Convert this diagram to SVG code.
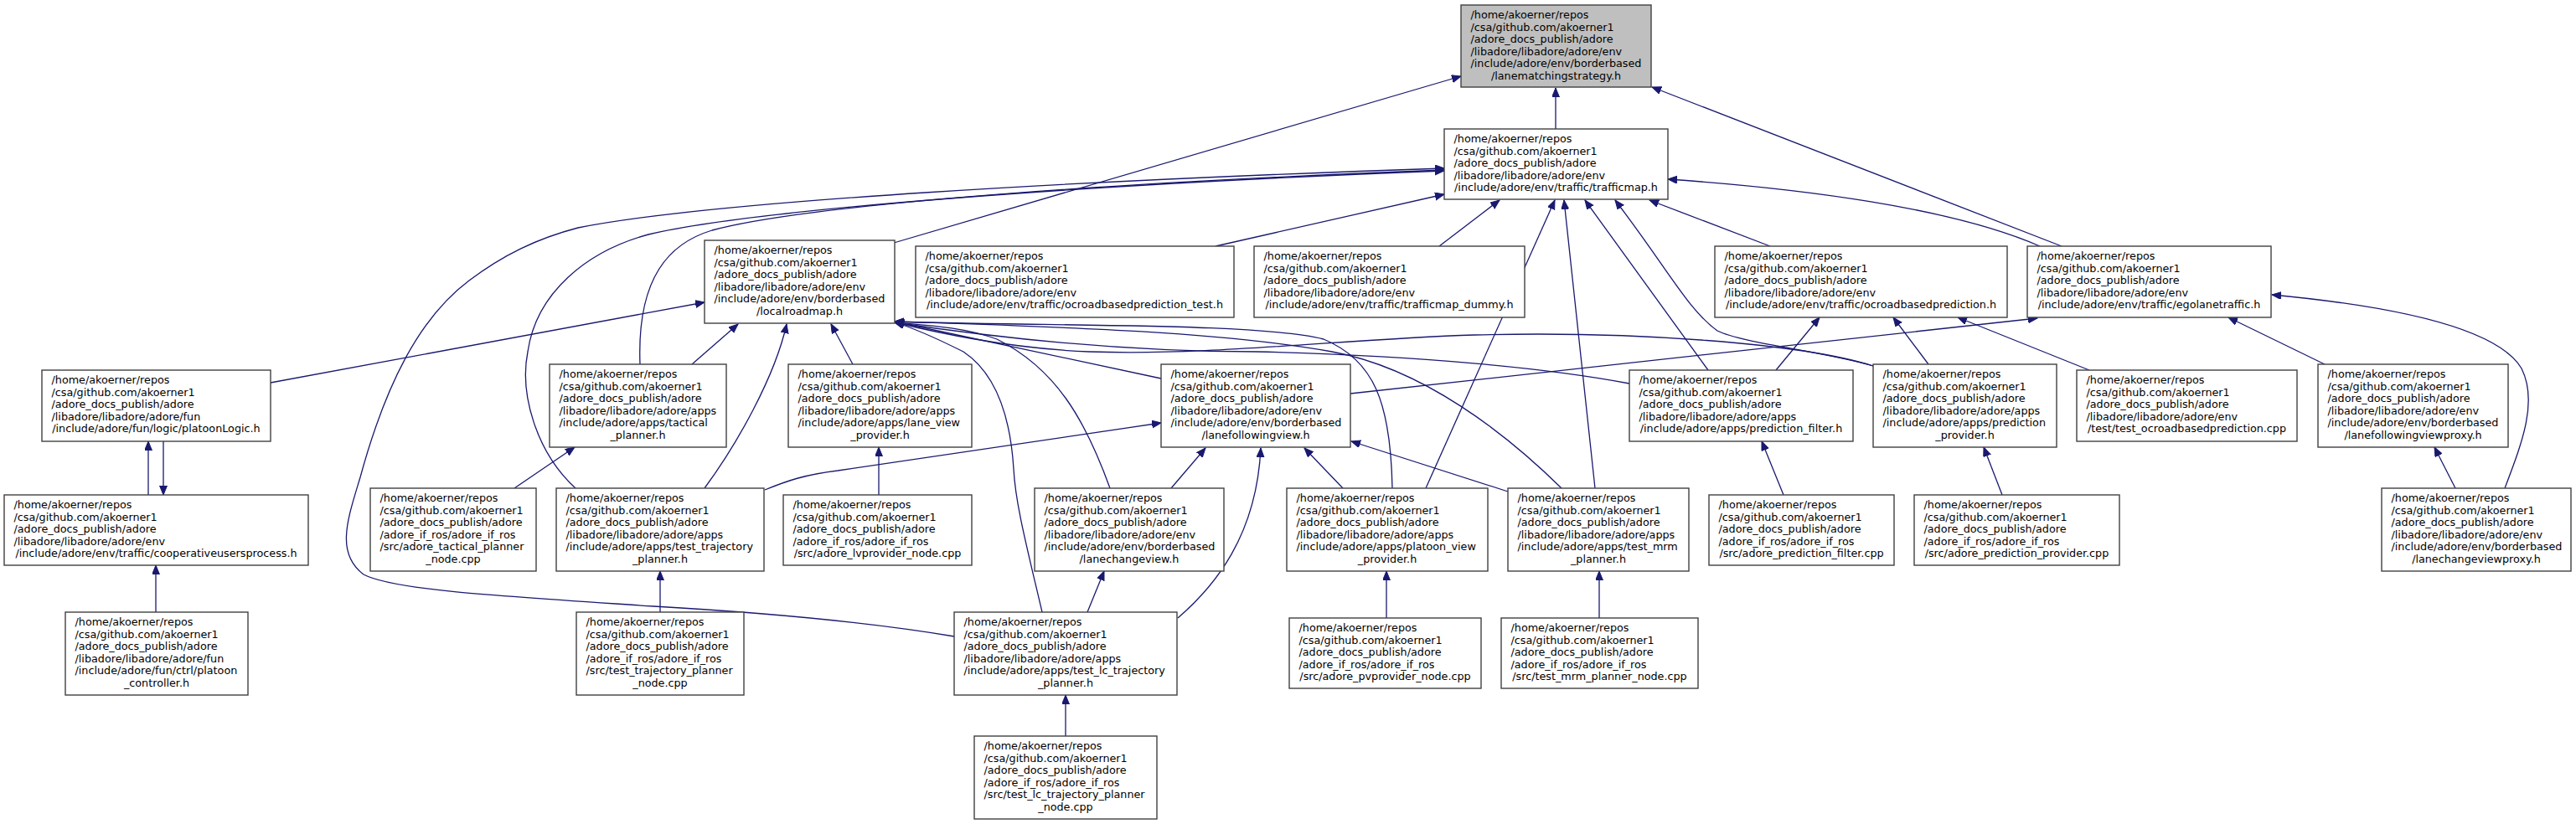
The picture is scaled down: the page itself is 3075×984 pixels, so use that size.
<svg xmlns="http://www.w3.org/2000/svg" width="3075" height="984" viewBox="0 0 3075 984">
<style>
.bg{fill:#ffffff}
.box{fill:#ffffff;stroke:#404040;stroke-width:1.4}
.cur{fill:#bfbfbf;stroke:#404040;stroke-width:1.4}
text{font-family:"DejaVu Sans","Liberation Sans",sans-serif;font-size:12.75px;fill:#000000}
.c{text-anchor:middle}
.e{fill:none;stroke:#191970;stroke-width:1.3;marker-end:url(#ah)}
</style>
<defs>
<marker id="ah" markerUnits="userSpaceOnUse" markerWidth="12" markerHeight="10" refX="11" refY="4.5" orient="auto">
<path d="M0,0 L11,4.5 L0,9 z" fill="#191970" stroke="#191970" stroke-width="1"/>
</marker>
</defs>
<rect class="bg" x="0" y="0" width="3075" height="984"/>

<g id="edges">
<path class="e" d="M1857,154 L1857,105"/>
<path class="e" d="M1067,290 L1744,91"/>
<path class="e" d="M2461,294 L1972,104"/>
<path class="e" d="M1451,294 L1724,232"/>
<path class="e" d="M1718,294 L1790,239"/>
<path class="e" d="M2113,294 L1969,239"/>
<path class="e" d="M2435,294 C2330,248 2150,225 1991,214"/>
<path class="e" d="M764,435 C760,330 800,290 850,275 C980,240 1400,215 1724,203"/>
<path class="e" d="M687,583 C640,540 620,470 630,420 C640,350 700,300 774,280 C900,250 1300,220 1724,204"/>
<path class="e" d="M1139,760 C1050,745 920,732 780,724 C600,712 470,705 434,686 C400,660 415,620 430,570 C460,460 500,380 560,335 C600,305 640,285 690,272 C850,240 1300,215 1724,201"/>
<path class="e" d="M1702,583 L1856,239"/>
<path class="e" d="M1904,583 L1867,239"/>
<path class="e" d="M2039,442 L1892,239"/>
<path class="e" d="M2236,437 C2180,420 2080,410 2050,395 C2015,370 1990,320 1928,239"/>
<path class="e" d="M323,457 L841,361"/>
<path class="e" d="M826,435 L881,387"/>
<path class="e" d="M841,583 C880,530 925,450 939,387"/>
<path class="e" d="M1018,435 L992,387"/>
<path class="e" d="M1386,452 L1068,384"/>
<path class="e" d="M1325,583 C1295,500 1260,440 1190,405 C1150,390 1100,388 1068,385"/>
<path class="e" d="M1662,583 C1660,480 1640,430 1580,405 C1500,385 1250,390 1068,384"/>
<path class="e" d="M1864,583 C1800,520 1700,440 1590,420 C1450,395 1250,390 1068,384"/>
<path class="e" d="M1945,458 C1850,440 1700,425 1500,420 C1350,420 1200,405 1068,385"/>
<path class="e" d="M2236,437 C2150,410 1950,395 1760,400 C1600,405 1450,425 1300,420 C1200,416 1110,395 1068,385"/>
<path class="e" d="M1244,731 C1225,650 1212,600 1210,560 C1205,480 1180,440 1150,420 C1110,400 1085,390 1068,385"/>
<path class="e" d="M1398,583 L1439,535"/>
<path class="e" d="M1406,738 C1450,700 1500,640 1505,535"/>
<path class="e" d="M1603,583 L1557,535"/>
<path class="e" d="M1800,587 L1613,527"/>
<path class="e" d="M913,585 C940,574 960,567 1000,562 L1386,505"/>
<path class="e" d="M1612,470 L2432,380"/>
<path class="e" d="M614,583 L686,534"/>
<path class="e" d="M788,731 L788,682"/>
<path class="e" d="M1049,591 L1049,534"/>
<path class="e" d="M1298,731 L1318,682"/>
<path class="e" d="M1272,879 L1272,830"/>
<path class="e" d="M1655,738 L1655,682"/>
<path class="e" d="M1909,738 L1909,682"/>
<path class="e" d="M2129,591 L2103,527"/>
<path class="e" d="M2390,591 L2368,534"/>
<path class="e" d="M2120,442 L2172,379"/>
<path class="e" d="M2302,435 L2260,379"/>
<path class="e" d="M2494,442 L2337,379"/>
<path class="e" d="M2775,435 L2660,379"/>
<path class="e" d="M2990,583 C3010,530 3030,480 3010,440 C2980,390 2850,365 2712,352"/>
<path class="e" d="M2931,583 L2906,534"/>
<path class="e" d="M177,591 L177,527"/>
<path class="e" d="M195,527 L195,591"/>
<path class="e" d="M186,731 L186,675"/>
</g>

<g id="node_lanematchingstrategy">
<rect class="cur" x="1744" y="6" width="227" height="98"/>
<text x="1755.5" y="22">/home/akoerner/repos</text>
<text x="1755.5" y="36.5">/csa/github.com/akoerner1</text>
<text x="1755.5" y="51">/adore_docs_publish/adore</text>
<text x="1755.5" y="65.5">/libadore/libadore/adore/env</text>
<text x="1755.5" y="80">/include/adore/env/borderbased</text>
<text class="c" x="1857.5" y="94.5">/lanematchingstrategy.h</text>
</g>

<g id="node_trafficmap">
<rect class="box" x="1724" y="154" width="267" height="84"/>
<text x="1735.5" y="170">/home/akoerner/repos</text>
<text x="1735.5" y="184.5">/csa/github.com/akoerner1</text>
<text x="1735.5" y="199">/adore_docs_publish/adore</text>
<text x="1735.5" y="213.5">/libadore/libadore/adore/env</text>
<text class="c" x="1857.5" y="228">/include/adore/env/traffic/trafficmap.h</text>
</g>

<g id="node_localroadmap">
<rect class="box" x="841" y="287" width="227" height="99"/>
<text x="852.5" y="303">/home/akoerner/repos</text>
<text x="852.5" y="317.5">/csa/github.com/akoerner1</text>
<text x="852.5" y="332">/adore_docs_publish/adore</text>
<text x="852.5" y="346.5">/libadore/libadore/adore/env</text>
<text x="852.5" y="361">/include/adore/env/borderbased</text>
<text class="c" x="954.5" y="375.5">/localroadmap.h</text>
</g>

<g id="node_ocroadbasedprediction_test">
<rect class="box" x="1093" y="294" width="380" height="85"/>
<text x="1104.5" y="310">/home/akoerner/repos</text>
<text x="1104.5" y="324.5">/csa/github.com/akoerner1</text>
<text x="1104.5" y="339">/adore_docs_publish/adore</text>
<text x="1104.5" y="353.5">/libadore/libadore/adore/env</text>
<text class="c" x="1283" y="368">/include/adore/env/traffic/ocroadbasedprediction_test.h</text>
</g>

<g id="node_trafficmap_dummy">
<rect class="box" x="1497" y="294" width="323" height="85"/>
<text x="1508.5" y="310">/home/akoerner/repos</text>
<text x="1508.5" y="324.5">/csa/github.com/akoerner1</text>
<text x="1508.5" y="339">/adore_docs_publish/adore</text>
<text x="1508.5" y="353.5">/libadore/libadore/adore/env</text>
<text class="c" x="1658.5" y="368">/include/adore/env/traffic/trafficmap_dummy.h</text>
</g>

<g id="node_ocroadbasedprediction">
<rect class="box" x="2047" y="294" width="349" height="85"/>
<text x="2058.5" y="310">/home/akoerner/repos</text>
<text x="2058.5" y="324.5">/csa/github.com/akoerner1</text>
<text x="2058.5" y="339">/adore_docs_publish/adore</text>
<text x="2058.5" y="353.5">/libadore/libadore/adore/env</text>
<text class="c" x="2221.5" y="368">/include/adore/env/traffic/ocroadbasedprediction.h</text>
</g>

<g id="node_egolanetraffic">
<rect class="box" x="2420" y="294" width="291" height="85"/>
<text x="2431.5" y="310">/home/akoerner/repos</text>
<text x="2431.5" y="324.5">/csa/github.com/akoerner1</text>
<text x="2431.5" y="339">/adore_docs_publish/adore</text>
<text x="2431.5" y="353.5">/libadore/libadore/adore/env</text>
<text class="c" x="2565.5" y="368">/include/adore/env/traffic/egolanetraffic.h</text>
</g>

<g id="node_platoonLogic">
<rect class="box" x="50" y="442" width="273" height="85"/>
<text x="61.5" y="458">/home/akoerner/repos</text>
<text x="61.5" y="472.5">/csa/github.com/akoerner1</text>
<text x="61.5" y="487">/adore_docs_publish/adore</text>
<text x="61.5" y="501.5">/libadore/libadore/adore/fun</text>
<text class="c" x="186.5" y="516">/include/adore/fun/logic/platoonLogic.h</text>
</g>

<g id="node_tactical_planner">
<rect class="box" x="656" y="435" width="211" height="99"/>
<text x="667.5" y="451">/home/akoerner/repos</text>
<text x="667.5" y="465.5">/csa/github.com/akoerner1</text>
<text x="667.5" y="480">/adore_docs_publish/adore</text>
<text x="667.5" y="494.5">/libadore/libadore/adore/apps</text>
<text x="667.5" y="509">/include/adore/apps/tactical</text>
<text class="c" x="761.5" y="523.5">_planner.h</text>
</g>

<g id="node_lane_view_provider">
<rect class="box" x="941" y="435" width="219" height="99"/>
<text x="952.5" y="451">/home/akoerner/repos</text>
<text x="952.5" y="465.5">/csa/github.com/akoerner1</text>
<text x="952.5" y="480">/adore_docs_publish/adore</text>
<text x="952.5" y="494.5">/libadore/libadore/adore/apps</text>
<text x="952.5" y="509">/include/adore/apps/lane_view</text>
<text class="c" x="1050.5" y="523.5">_provider.h</text>
</g>

<g id="node_lanefollowingview">
<rect class="box" x="1386" y="435" width="226" height="99"/>
<text x="1397.5" y="451">/home/akoerner/repos</text>
<text x="1397.5" y="465.5">/csa/github.com/akoerner1</text>
<text x="1397.5" y="480">/adore_docs_publish/adore</text>
<text x="1397.5" y="494.5">/libadore/libadore/adore/env</text>
<text x="1397.5" y="509">/include/adore/env/borderbased</text>
<text class="c" x="1499" y="523.5">/lanefollowingview.h</text>
</g>

<g id="node_prediction_filter_h">
<rect class="box" x="1945" y="442" width="267" height="85"/>
<text x="1956.5" y="458">/home/akoerner/repos</text>
<text x="1956.5" y="472.5">/csa/github.com/akoerner1</text>
<text x="1956.5" y="487">/adore_docs_publish/adore</text>
<text x="1956.5" y="501.5">/libadore/libadore/adore/apps</text>
<text class="c" x="2078.5" y="516">/include/adore/apps/prediction_filter.h</text>
</g>

<g id="node_prediction_provider_h">
<rect class="box" x="2236" y="435" width="219" height="99"/>
<text x="2247.5" y="451">/home/akoerner/repos</text>
<text x="2247.5" y="465.5">/csa/github.com/akoerner1</text>
<text x="2247.5" y="480">/adore_docs_publish/adore</text>
<text x="2247.5" y="494.5">/libadore/libadore/adore/apps</text>
<text x="2247.5" y="509">/include/adore/apps/prediction</text>
<text class="c" x="2345.5" y="523.5">_provider.h</text>
</g>

<g id="node_test_ocroadbasedprediction">
<rect class="box" x="2479" y="442" width="263" height="85"/>
<text x="2490.5" y="458">/home/akoerner/repos</text>
<text x="2490.5" y="472.5">/csa/github.com/akoerner1</text>
<text x="2490.5" y="487">/adore_docs_publish/adore</text>
<text x="2490.5" y="501.5">/libadore/libadore/adore/env</text>
<text class="c" x="2610.5" y="516">/test/test_ocroadbasedprediction.cpp</text>
</g>

<g id="node_lanefollowingviewproxy">
<rect class="box" x="2767" y="435" width="227" height="99"/>
<text x="2778.5" y="451">/home/akoerner/repos</text>
<text x="2778.5" y="465.5">/csa/github.com/akoerner1</text>
<text x="2778.5" y="480">/adore_docs_publish/adore</text>
<text x="2778.5" y="494.5">/libadore/libadore/adore/env</text>
<text x="2778.5" y="509">/include/adore/env/borderbased</text>
<text class="c" x="2880.5" y="523.5">/lanefollowingviewproxy.h</text>
</g>

<g id="node_cooperativeusersprocess">
<rect class="box" x="5" y="591" width="363" height="84"/>
<text x="16.5" y="607">/home/akoerner/repos</text>
<text x="16.5" y="621.5">/csa/github.com/akoerner1</text>
<text x="16.5" y="636">/adore_docs_publish/adore</text>
<text x="16.5" y="650.5">/libadore/libadore/adore/env</text>
<text class="c" x="186.5" y="665">/include/adore/env/traffic/cooperativeusersprocess.h</text>
</g>

<g id="node_tactical_planner_node">
<rect class="box" x="442" y="583" width="198" height="99"/>
<text x="453.5" y="599">/home/akoerner/repos</text>
<text x="453.5" y="613.5">/csa/github.com/akoerner1</text>
<text x="453.5" y="628">/adore_docs_publish/adore</text>
<text x="453.5" y="642.5">/adore_if_ros/adore_if_ros</text>
<text x="453.5" y="657">/src/adore_tactical_planner</text>
<text class="c" x="541" y="671.5">_node.cpp</text>
</g>

<g id="node_test_trajectory_planner">
<rect class="box" x="664" y="583" width="248" height="99"/>
<text x="675.5" y="599">/home/akoerner/repos</text>
<text x="675.5" y="613.5">/csa/github.com/akoerner1</text>
<text x="675.5" y="628">/adore_docs_publish/adore</text>
<text x="675.5" y="642.5">/libadore/libadore/adore/apps</text>
<text x="675.5" y="657">/include/adore/apps/test_trajectory</text>
<text class="c" x="788" y="671.5">_planner.h</text>
</g>

<g id="node_lvprovider_node">
<rect class="box" x="935" y="591" width="225" height="84"/>
<text x="946.5" y="607">/home/akoerner/repos</text>
<text x="946.5" y="621.5">/csa/github.com/akoerner1</text>
<text x="946.5" y="636">/adore_docs_publish/adore</text>
<text x="946.5" y="650.5">/adore_if_ros/adore_if_ros</text>
<text class="c" x="1047.5" y="665">/src/adore_lvprovider_node.cpp</text>
</g>

<g id="node_lanechangeview">
<rect class="box" x="1235" y="583" width="226" height="99"/>
<text x="1246.5" y="599">/home/akoerner/repos</text>
<text x="1246.5" y="613.5">/csa/github.com/akoerner1</text>
<text x="1246.5" y="628">/adore_docs_publish/adore</text>
<text x="1246.5" y="642.5">/libadore/libadore/adore/env</text>
<text x="1246.5" y="657">/include/adore/env/borderbased</text>
<text class="c" x="1348" y="671.5">/lanechangeview.h</text>
</g>

<g id="node_platoon_view_provider">
<rect class="box" x="1536" y="583" width="240" height="99"/>
<text x="1547.5" y="599">/home/akoerner/repos</text>
<text x="1547.5" y="613.5">/csa/github.com/akoerner1</text>
<text x="1547.5" y="628">/adore_docs_publish/adore</text>
<text x="1547.5" y="642.5">/libadore/libadore/adore/apps</text>
<text x="1547.5" y="657">/include/adore/apps/platoon_view</text>
<text class="c" x="1656" y="671.5">_provider.h</text>
</g>

<g id="node_test_mrm_planner">
<rect class="box" x="1800" y="583" width="216" height="99"/>
<text x="1811.5" y="599">/home/akoerner/repos</text>
<text x="1811.5" y="613.5">/csa/github.com/akoerner1</text>
<text x="1811.5" y="628">/adore_docs_publish/adore</text>
<text x="1811.5" y="642.5">/libadore/libadore/adore/apps</text>
<text x="1811.5" y="657">/include/adore/apps/test_mrm</text>
<text class="c" x="1908" y="671.5">_planner.h</text>
</g>

<g id="node_prediction_filter_cpp">
<rect class="box" x="2040" y="591" width="221" height="84"/>
<text x="2051.5" y="607">/home/akoerner/repos</text>
<text x="2051.5" y="621.5">/csa/github.com/akoerner1</text>
<text x="2051.5" y="636">/adore_docs_publish/adore</text>
<text x="2051.5" y="650.5">/adore_if_ros/adore_if_ros</text>
<text class="c" x="2150.5" y="665">/src/adore_prediction_filter.cpp</text>
</g>

<g id="node_prediction_provider_cpp">
<rect class="box" x="2285" y="591" width="245" height="84"/>
<text x="2296.5" y="607">/home/akoerner/repos</text>
<text x="2296.5" y="621.5">/csa/github.com/akoerner1</text>
<text x="2296.5" y="636">/adore_docs_publish/adore</text>
<text x="2296.5" y="650.5">/adore_if_ros/adore_if_ros</text>
<text class="c" x="2407.5" y="665">/src/adore_prediction_provider.cpp</text>
</g>

<g id="node_lanechangeviewproxy">
<rect class="box" x="2843" y="583" width="226" height="99"/>
<text x="2854.5" y="599">/home/akoerner/repos</text>
<text x="2854.5" y="613.5">/csa/github.com/akoerner1</text>
<text x="2854.5" y="628">/adore_docs_publish/adore</text>
<text x="2854.5" y="642.5">/libadore/libadore/adore/env</text>
<text x="2854.5" y="657">/include/adore/env/borderbased</text>
<text class="c" x="2956" y="671.5">/lanechangeviewproxy.h</text>
</g>

<g id="node_platoon_controller">
<rect class="box" x="78" y="731" width="218" height="99"/>
<text x="89.5" y="747">/home/akoerner/repos</text>
<text x="89.5" y="761.5">/csa/github.com/akoerner1</text>
<text x="89.5" y="776">/adore_docs_publish/adore</text>
<text x="89.5" y="790.5">/libadore/libadore/adore/fun</text>
<text x="89.5" y="805">/include/adore/fun/ctrl/platoon</text>
<text class="c" x="187" y="819.5">_controller.h</text>
</g>

<g id="node_test_trajectory_planner_node">
<rect class="box" x="688" y="731" width="200" height="99"/>
<text x="699.5" y="747">/home/akoerner/repos</text>
<text x="699.5" y="761.5">/csa/github.com/akoerner1</text>
<text x="699.5" y="776">/adore_docs_publish/adore</text>
<text x="699.5" y="790.5">/adore_if_ros/adore_if_ros</text>
<text x="699.5" y="805">/src/test_trajectory_planner</text>
<text class="c" x="788" y="819.5">_node.cpp</text>
</g>

<g id="node_test_lc_trajectory_planner">
<rect class="box" x="1139" y="731" width="266" height="99"/>
<text x="1150.5" y="747">/home/akoerner/repos</text>
<text x="1150.5" y="761.5">/csa/github.com/akoerner1</text>
<text x="1150.5" y="776">/adore_docs_publish/adore</text>
<text x="1150.5" y="790.5">/libadore/libadore/adore/apps</text>
<text x="1150.5" y="805">/include/adore/apps/test_lc_trajectory</text>
<text class="c" x="1272" y="819.5">_planner.h</text>
</g>

<g id="node_pvprovider_node">
<rect class="box" x="1539" y="738" width="229" height="84"/>
<text x="1550.5" y="754">/home/akoerner/repos</text>
<text x="1550.5" y="768.5">/csa/github.com/akoerner1</text>
<text x="1550.5" y="783">/adore_docs_publish/adore</text>
<text x="1550.5" y="797.5">/adore_if_ros/adore_if_ros</text>
<text class="c" x="1653.5" y="812">/src/adore_pvprovider_node.cpp</text>
</g>

<g id="node_test_mrm_planner_node">
<rect class="box" x="1792" y="738" width="235" height="84"/>
<text x="1803.5" y="754">/home/akoerner/repos</text>
<text x="1803.5" y="768.5">/csa/github.com/akoerner1</text>
<text x="1803.5" y="783">/adore_docs_publish/adore</text>
<text x="1803.5" y="797.5">/adore_if_ros/adore_if_ros</text>
<text class="c" x="1909.5" y="812">/src/test_mrm_planner_node.cpp</text>
</g>

<g id="node_test_lc_trajectory_planner_node">
<rect class="box" x="1163" y="879" width="218" height="99"/>
<text x="1174.5" y="895">/home/akoerner/repos</text>
<text x="1174.5" y="909.5">/csa/github.com/akoerner1</text>
<text x="1174.5" y="924">/adore_docs_publish/adore</text>
<text x="1174.5" y="938.5">/adore_if_ros/adore_if_ros</text>
<text x="1174.5" y="953">/src/test_lc_trajectory_planner</text>
<text class="c" x="1272" y="967.5">_node.cpp</text>
</g>
</svg>
